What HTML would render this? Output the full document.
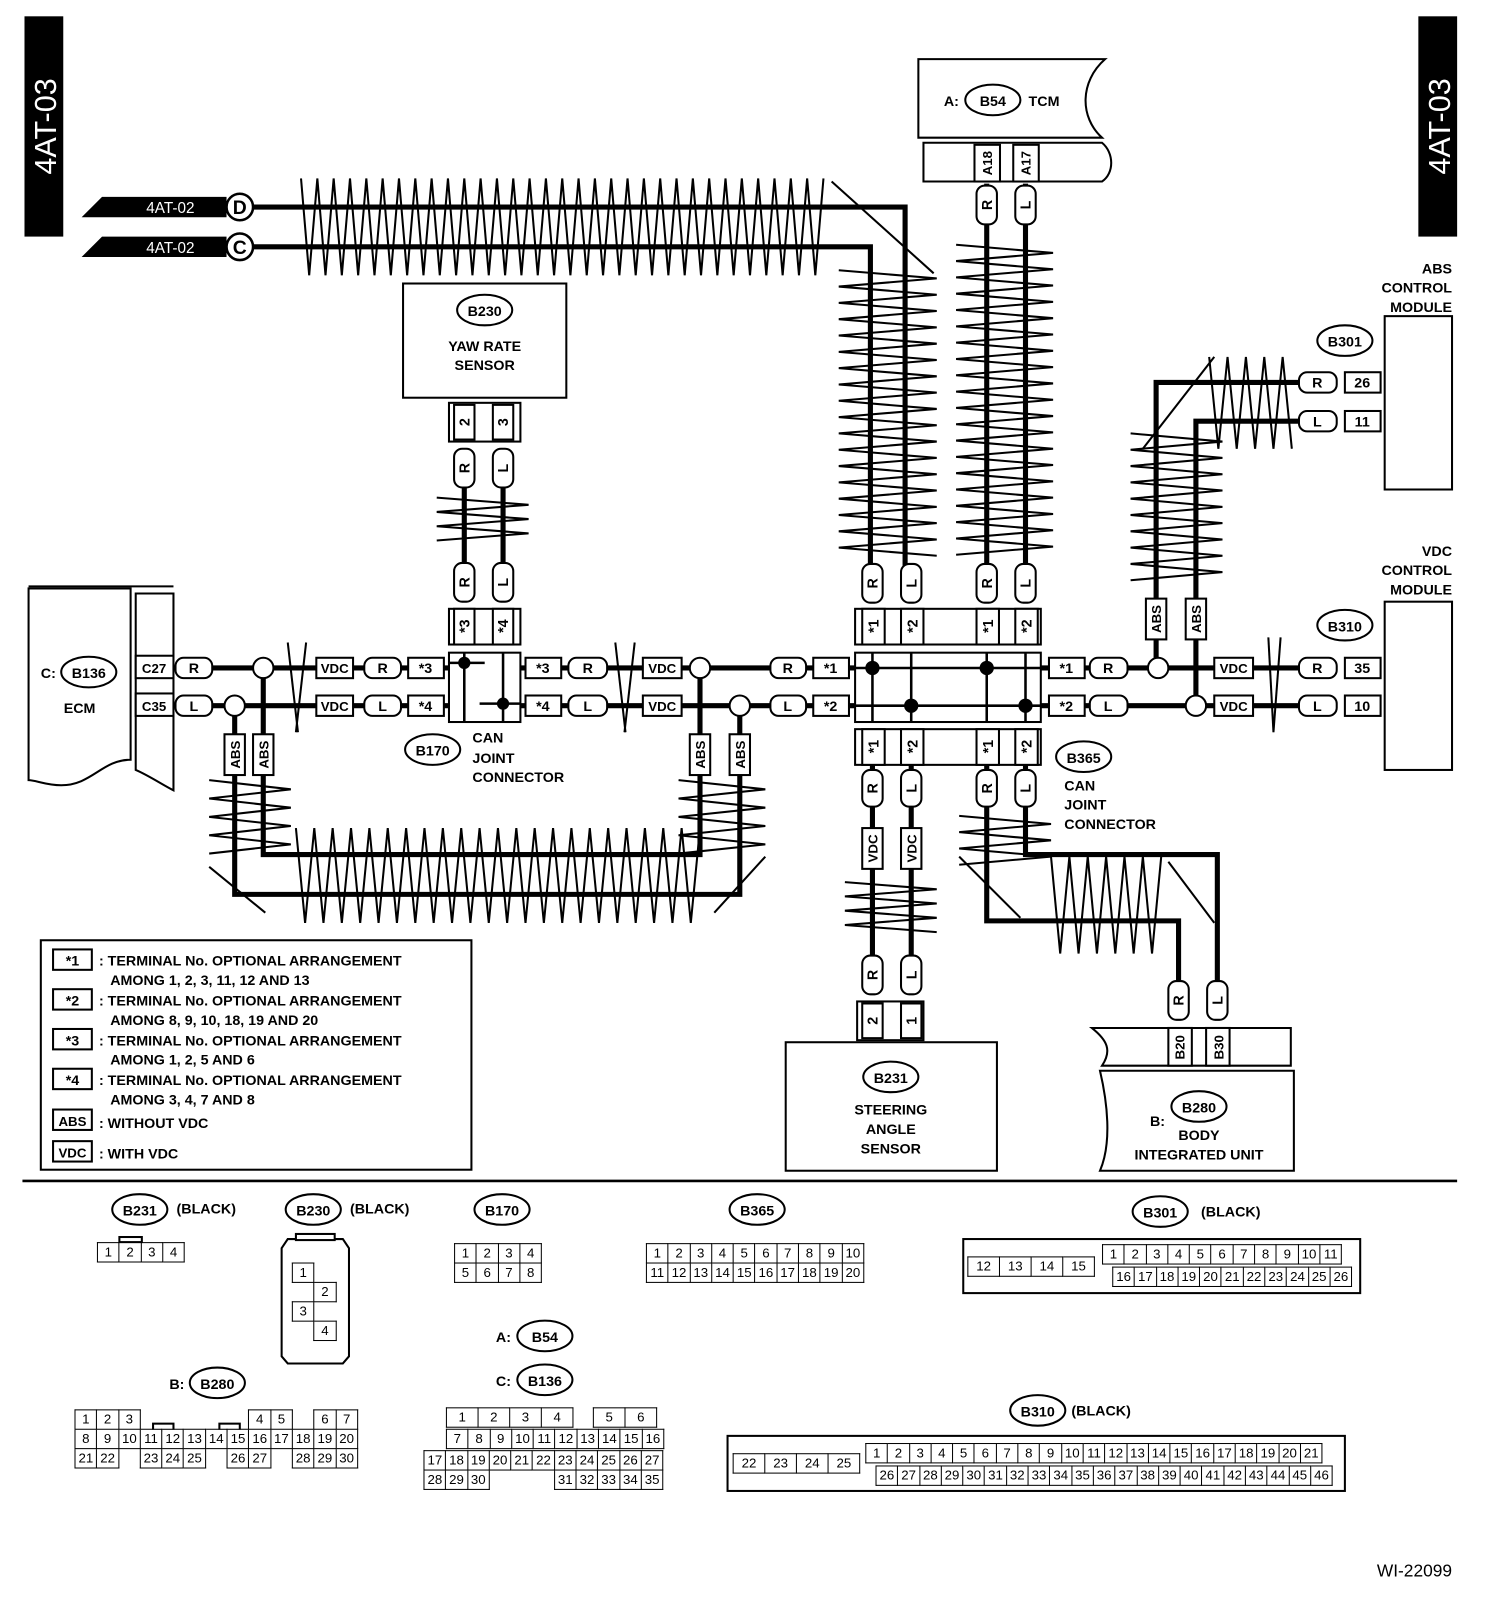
<!DOCTYPE html>
<html><head><meta charset="utf-8"><style>
html,body{margin:0;padding:0;background:#fff;width:1504px;height:1598px;overflow:hidden}
#c{position:absolute;left:0;top:0;width:1474px;height:1567px;transform-origin:0 0;transform:scale(1.0204,1.0198)}
svg{position:absolute;left:0;top:0}
svg text{font-family:"Liberation Sans",sans-serif;font-weight:bold;font-size:14px;fill:#000}
table{position:absolute;border-collapse:collapse;table-layout:fixed;font-family:"Liberation Sans",sans-serif;font-size:13px}
td{border:1.5px solid #000;text-align:center;padding:0;height:18px;width:20.3px;background:#fff;line-height:16px}
td.e{border:none;background:transparent}
</style></head><body><div id="c">
<svg width="1474" height="1567" viewBox="0 0 1474 1567" xmlns="http://www.w3.org/2000/svg">
<g id="zz" fill="none" stroke="#000" stroke-width="2"></g>
<g fill="none" stroke="#000" stroke-width="5">
<polyline points="248,203 887,203 887,555"/>
<polyline points="248,242 853,242 853,555"/>
<line x1="967" y1="180" x2="967" y2="555"/><line x1="1005" y1="180" x2="1005" y2="555"/>
<line x1="455" y1="478" x2="455" y2="552"/><line x1="493" y1="478" x2="493" y2="552"/>
<line x1="170" y1="655" x2="1273" y2="655"/><line x1="170" y1="692" x2="1273" y2="692"/>
<polyline points="258,655 258,838 686,838 686,655"/>
<polyline points="230,692 230,877 725,877 725,692"/>
<polyline points="1273,375 1133,375 1133,655"/>
<polyline points="1273,413 1172,413 1172,692"/>
<line x1="855" y1="750" x2="855" y2="937"/><line x1="893" y1="750" x2="893" y2="937"/>
<polyline points="967,750 967,903 1155,903 1155,962"/>
<polyline points="1005,750 1005,838 1193,838 1193,962"/>
</g>
<g fill="none" stroke="#000" stroke-width="2">
<line x1="815" y1="178" x2="915" y2="268"/>
<line x1="1120" y1="440" x2="1190" y2="350"/>
<line x1="940" y1="840" x2="1000" y2="900"/>
<line x1="1145" y1="845" x2="1190" y2="905"/>
<line x1="205" y1="850" x2="260" y2="895"/>
<line x1="700" y1="895" x2="750" y2="840"/>
<line x1="282" y1="630" x2="292" y2="718"/><line x1="300" y1="630" x2="290" y2="718"/>
<line x1="603" y1="630" x2="613" y2="718"/><line x1="622" y1="630" x2="612" y2="718"/>
<line x1="1243" y1="625" x2="1248" y2="718"/><line x1="1255" y1="625" x2="1248" y2="718"/>
</g>
<rect x="24" y="16" width="38" height="216" fill="#000"/>
<text transform="translate(55,124) rotate(-90)" text-anchor="middle" style="fill:#fff;font-size:30px;font-weight:normal">4AT-03</text>
<rect x="1390" y="16" width="38" height="216" fill="#000"/>
<text transform="translate(1421,124) rotate(-90)" text-anchor="middle" style="fill:#fff;font-size:30px;font-weight:normal">4AT-03</text>
<polygon points="80,213 100,193 222,193 222,213" fill="#000"/>
<text x="167" y="209" text-anchor="middle" style="fill:#fff;font-weight:normal;font-size:15px">4AT-02</text>
<polygon points="80,252 100,232 222,232 222,252" fill="#000"/>
<text x="167" y="248" text-anchor="middle" style="fill:#fff;font-weight:normal;font-size:15px">4AT-02</text>
<g fill="#fff" stroke="#000" stroke-width="2.5"><circle cx="235" cy="203" r="13"/><circle cx="235" cy="242" r="13"/></g>
<text x="235" y="210" text-anchor="middle" style="font-size:19px">D</text>
<text x="235" y="249" text-anchor="middle" style="font-size:19px">C</text>

<g fill="#fff" stroke="#000" stroke-width="2">
<path d="M900,58 H1083 C1058,80 1058,115 1080,135 H900 Z"/>
<path d="M905,140 H1080 C1092,150 1092,170 1080,178 H905 Z"/>
<rect x="955" y="142" width="25" height="36"/><rect x="993" y="142" width="25" height="36"/>
<ellipse cx="973" cy="98" rx="27" ry="15"/>
<rect x="395" y="278" width="160" height="112"/>
<ellipse cx="475" cy="304" rx="27" ry="15"/>
<rect x="440" y="395" width="70" height="38"/><rect x="445" y="397" width="20" height="34"/><rect x="483" y="397" width="20" height="34"/>
<rect x="440" y="597" width="70" height="35"/><rect x="445" y="597" width="20" height="35"/><rect x="483" y="597" width="20" height="35"/>
<rect x="440" y="640" width="70" height="68"/>
<path d="M28,577 H128 V745 C100,745 90,770 60,770 C45,770 35,765 28,765 Z"/>
<path d="M133,582 H170 V775 C160,770 145,760 133,755 Z"/>
<line x1="28" y1="575" x2="170" y2="575"/>
<rect x="133" y="643" width="37" height="22"/><rect x="133" y="680" width="37" height="22"/>
<ellipse cx="87" cy="659" rx="27" ry="15"/>
<ellipse cx="424" cy="735" rx="27" ry="15"/>
<rect x="838" y="597" width="182" height="35"/>
<rect x="838" y="640" width="182" height="68"/>
<rect x="838" y="715" width="182" height="35"/>
<rect x="845" y="597" width="22" height="35"/><rect x="883" y="597" width="22" height="35"/><rect x="957" y="597" width="22" height="35"/><rect x="995" y="597" width="22" height="35"/>
<rect x="845" y="715" width="22" height="35"/><rect x="883" y="715" width="22" height="35"/><rect x="957" y="715" width="22" height="35"/><rect x="995" y="715" width="22" height="35"/>
<ellipse cx="1062" cy="742" rx="27" ry="15"/>
<rect x="1357" y="310" width="66" height="170"/><rect x="1357" y="590" width="66" height="165"/>
<rect x="1318" y="365" width="35" height="20"/><rect x="1318" y="403" width="35" height="20"/>
<rect x="1318" y="645" width="35" height="20"/><rect x="1318" y="682" width="35" height="20"/>
<ellipse cx="1318" cy="334" rx="27" ry="15"/><ellipse cx="1318" cy="613" rx="27" ry="15"/>
<rect x="770" y="1022" width="207" height="126"/>
<rect x="840" y="982" width="65" height="38"/><rect x="845" y="984" width="20" height="34"/><rect x="883" y="984" width="20" height="34"/>
<ellipse cx="873" cy="1056" rx="27" ry="15"/>
<path d="M1070,1008 H1265 V1045 H1080 C1090,1030 1085,1020 1070,1008 Z"/>
<rect x="1145" y="1008" width="23" height="37"/><rect x="1182" y="1008" width="23" height="37"/>
<path d="M1078,1050 H1268 V1148 H1078 C1090,1120 1085,1080 1078,1050 Z"/>
<ellipse cx="1175" cy="1085" rx="27" ry="15"/>
<rect x="40" y="922" width="422" height="225"/>
<rect x="52" y="931" width="38" height="20"/><rect x="52" y="970" width="38" height="20"/><rect x="52" y="1009" width="38" height="20"/><rect x="52" y="1048" width="38" height="20"/><rect x="52" y="1088" width="38" height="20"/><rect x="52" y="1119" width="38" height="20"/>
<rect x="400" y="645" width="35" height="20"/><rect x="400" y="682" width="35" height="20"/>
<rect x="515" y="645" width="35" height="20"/><rect x="515" y="682" width="35" height="20"/>
<rect x="797" y="645" width="35" height="20"/><rect x="797" y="682" width="35" height="20"/>
<rect x="1028" y="645" width="35" height="20"/><rect x="1028" y="682" width="35" height="20"/>
<rect x="310" y="645" width="36" height="20"/><rect x="310" y="682" width="36" height="20"/>
<rect x="630" y="645" width="38" height="20"/><rect x="630" y="682" width="38" height="20"/>
<rect x="1190" y="645" width="38" height="20"/><rect x="1190" y="682" width="38" height="20"/>
<rect x="172" y="645" width="36" height="20" rx="8"/><rect x="172" y="682" width="36" height="20" rx="8"/>
<rect x="357" y="645" width="36" height="20" rx="8"/><rect x="357" y="682" width="36" height="20" rx="8"/>
<rect x="557" y="645" width="38" height="20" rx="8"/><rect x="557" y="682" width="38" height="20" rx="8"/>
<rect x="755" y="645" width="35" height="20" rx="8"/><rect x="755" y="682" width="35" height="20" rx="8"/>
<rect x="1068" y="645" width="37" height="20" rx="8"/><rect x="1068" y="682" width="37" height="20" rx="8"/>
<rect x="1273" y="645" width="37" height="20" rx="8"/><rect x="1273" y="682" width="37" height="20" rx="8"/>
<rect x="1273" y="365" width="37" height="20" rx="8"/><rect x="1273" y="403" width="37" height="20" rx="8"/>
<rect x="445" y="440" width="20" height="38" rx="8"/><rect x="483" y="440" width="20" height="38" rx="8"/>
<rect x="445" y="552" width="20" height="38" rx="8"/><rect x="483" y="552" width="20" height="38" rx="8"/>
<rect x="957" y="182" width="20" height="38" rx="8"/><rect x="995" y="182" width="20" height="38" rx="8"/>
<rect x="845" y="553" width="20" height="38" rx="8"/><rect x="883" y="553" width="20" height="38" rx="8"/><rect x="957" y="553" width="20" height="38" rx="8"/><rect x="995" y="553" width="20" height="38" rx="8"/>
<rect x="845" y="755" width="20" height="36" rx="8"/><rect x="883" y="755" width="20" height="36" rx="8"/><rect x="957" y="755" width="20" height="36" rx="8"/><rect x="995" y="755" width="20" height="36" rx="8"/>
<rect x="845" y="937" width="20" height="38" rx="8"/><rect x="883" y="937" width="20" height="38" rx="8"/>
<rect x="1145" y="962" width="20" height="38" rx="8"/><rect x="1183" y="962" width="20" height="38" rx="8"/>
<rect x="845" y="812" width="20" height="40"/><rect x="883" y="812" width="20" height="40"/>
<rect x="220" y="720" width="20" height="40"/><rect x="248" y="720" width="20" height="40"/>
<rect x="676" y="720" width="20" height="40"/><rect x="715" y="720" width="20" height="40"/>
<rect x="1123" y="587" width="20" height="40"/><rect x="1162" y="587" width="20" height="40"/>
<circle cx="258" cy="655" r="10"/><circle cx="230" cy="692" r="10"/><circle cx="686" cy="655" r="10"/><circle cx="725" cy="692" r="10"/><circle cx="1135" cy="655" r="10"/><circle cx="1172" cy="692" r="10"/>
</g>
<g stroke="#000" stroke-width="2.5">
<line x1="455" y1="640" x2="455" y2="708"/><line x1="493" y1="640" x2="493" y2="708"/>
<line x1="440" y1="650" x2="475" y2="650"/><line x1="470" y1="690" x2="510" y2="690"/>
<line x1="855" y1="640" x2="855" y2="708"/><line x1="893" y1="640" x2="893" y2="708"/><line x1="967" y1="640" x2="967" y2="708"/><line x1="1005" y1="640" x2="1005" y2="708"/>
<line x1="838" y1="655" x2="1020" y2="655"/><line x1="838" y1="692" x2="1020" y2="692"/>
</g>
<g fill="#000"><circle cx="455" cy="650" r="6"/><circle cx="493" cy="690" r="6"/><circle cx="855" cy="655" r="7"/><circle cx="893" cy="692" r="7"/><circle cx="967" cy="655" r="7"/><circle cx="1005" cy="692" r="7"/></g>
<line x1="22" y1="1158" x2="1428" y2="1158" stroke="#000" stroke-width="2.5"/>

<text x="925" y="104">A:</text><text x="973" y="104" text-anchor="middle">B54</text><text x="1008" y="104">TCM</text>
<text transform="translate(972,160) rotate(-90)" text-anchor="middle" style="font-size:13px">A18</text>
<text transform="translate(1010,160) rotate(-90)" text-anchor="middle" style="font-size:13px">A17</text>
<text transform="translate(972,201) rotate(-90)" text-anchor="middle">R</text>
<text transform="translate(1010,201) rotate(-90)" text-anchor="middle">L</text>
<text x="475" y="310" text-anchor="middle">B230</text>
<text x="475" y="344" text-anchor="middle">YAW RATE</text><text x="475" y="363" text-anchor="middle">SENSOR</text>
<text transform="translate(460,414) rotate(-90)" text-anchor="middle">2</text><text transform="translate(498,414) rotate(-90)" text-anchor="middle">3</text>
<text transform="translate(460,459) rotate(-90)" text-anchor="middle">R</text><text transform="translate(498,459) rotate(-90)" text-anchor="middle">L</text>
<text transform="translate(460,571) rotate(-90)" text-anchor="middle">R</text><text transform="translate(498,571) rotate(-90)" text-anchor="middle">L</text>
<text transform="translate(460,614) rotate(-90)" text-anchor="middle">*3</text><text transform="translate(498,614) rotate(-90)" text-anchor="middle">*4</text>
<text x="40" y="665">C:</text><text x="87" y="665" text-anchor="middle">B136</text><text x="78" y="699" text-anchor="middle">ECM</text>
<text x="151" y="660" text-anchor="middle" style="font-size:13px">C27</text><text x="151" y="697" text-anchor="middle" style="font-size:13px">C35</text>
<g text-anchor="middle">
<text x="190" y="660">R</text><text x="190" y="697">L</text>
<text x="328" y="660" style="font-size:13px">VDC</text><text x="328" y="697" style="font-size:13px">VDC</text>
<text x="375" y="660">R</text><text x="375" y="697">L</text>
<text x="417" y="660">*3</text><text x="417" y="697">*4</text>
<text x="532" y="660">*3</text><text x="532" y="697">*4</text>
<text x="576" y="660">R</text><text x="576" y="697">L</text>
<text x="649" y="660" style="font-size:13px">VDC</text><text x="649" y="697" style="font-size:13px">VDC</text>
<text x="772" y="660">R</text><text x="772" y="697">L</text>
<text x="814" y="660">*1</text><text x="814" y="697">*2</text>
<text x="1045" y="660">*1</text><text x="1045" y="697">*2</text>
<text x="1086" y="660">R</text><text x="1086" y="697">L</text>
<text x="1209" y="660" style="font-size:13px">VDC</text><text x="1209" y="697" style="font-size:13px">VDC</text>
<text x="1291" y="660">R</text><text x="1291" y="697">L</text>
<text x="1335" y="660">35</text><text x="1335" y="697">10</text>
<text x="1291" y="380">R</text><text x="1291" y="418">L</text>
<text x="1335" y="380">26</text><text x="1335" y="418">11</text>
<text x="424" y="741">B170</text>
<text x="1318" y="340">B301</text><text x="1318" y="619">B310</text>
<text x="1062" y="748">B365</text>
<text x="873" y="1062">B231</text>
<text x="1175" y="1091">B280</text>
</g>
<text x="463" y="728">CAN</text><text x="463" y="748">JOINT</text><text x="463" y="767">CONNECTOR</text>
<text x="1043" y="775">CAN</text><text x="1043" y="794">JOINT</text><text x="1043" y="813">CONNECTOR</text>
<g text-anchor="end"><text x="1423" y="268">ABS</text><text x="1423" y="287">CONTROL</text><text x="1423" y="306">MODULE</text>
<text x="1423" y="545">VDC</text><text x="1423" y="564">CONTROL</text><text x="1423" y="583">MODULE</text></g>
<g text-anchor="middle">
<text transform="translate(860,572) rotate(-90)">R</text><text transform="translate(898,572) rotate(-90)">L</text><text transform="translate(972,572) rotate(-90)">R</text><text transform="translate(1010,572) rotate(-90)">L</text>
<text transform="translate(861,614) rotate(-90)">*1</text><text transform="translate(899,614) rotate(-90)">*2</text><text transform="translate(973,614) rotate(-90)">*1</text><text transform="translate(1011,614) rotate(-90)">*2</text>
<text transform="translate(861,732) rotate(-90)">*1</text><text transform="translate(899,732) rotate(-90)">*2</text><text transform="translate(973,732) rotate(-90)">*1</text><text transform="translate(1011,732) rotate(-90)">*2</text>
<text transform="translate(860,773) rotate(-90)">R</text><text transform="translate(898,773) rotate(-90)">L</text><text transform="translate(972,773) rotate(-90)">R</text><text transform="translate(1010,773) rotate(-90)">L</text>
<text transform="translate(860,832) rotate(-90)" style="font-size:13px">VDC</text><text transform="translate(898,832) rotate(-90)" style="font-size:13px">VDC</text>
<text transform="translate(860,956) rotate(-90)">R</text><text transform="translate(898,956) rotate(-90)">L</text>
<text transform="translate(860,1001) rotate(-90)">2</text><text transform="translate(898,1001) rotate(-90)">1</text>
<text transform="translate(1160,981) rotate(-90)">R</text><text transform="translate(1198,981) rotate(-90)">L</text>
<text transform="translate(1161,1027) rotate(-90)" style="font-size:13px">B20</text><text transform="translate(1199,1027) rotate(-90)" style="font-size:13px">B30</text>
<text transform="translate(235,740) rotate(-90)" style="font-size:13px">ABS</text><text transform="translate(263,740) rotate(-90)" style="font-size:13px">ABS</text>
<text transform="translate(691,740) rotate(-90)" style="font-size:13px">ABS</text><text transform="translate(730,740) rotate(-90)" style="font-size:13px">ABS</text>
<text transform="translate(1138,607) rotate(-90)" style="font-size:13px">ABS</text><text transform="translate(1177,607) rotate(-90)" style="font-size:13px">ABS</text>
<text x="873" y="1093">STEERING</text><text x="873" y="1112">ANGLE</text><text x="873" y="1131">SENSOR</text>
<text x="1175" y="1118">BODY</text><text x="1175" y="1137">INTEGRATED UNIT</text>
<text x="71" y="947">*1</text><text x="71" y="986">*2</text><text x="71" y="1025">*3</text><text x="71" y="1064">*4</text>
<text x="71" y="1104" style="font-size:13px">ABS</text><text x="71" y="1135" style="font-size:13px">VDC</text>
</g>
<text x="1127" y="1104">B:</text>
<text x="97" y="947">: TERMINAL No. OPTIONAL ARRANGEMENT</text><text x="108" y="966">AMONG 1, 2, 3, 11, 12 AND 13</text>
<text x="97" y="986">: TERMINAL No. OPTIONAL ARRANGEMENT</text><text x="108" y="1005">AMONG 8, 9, 10, 18, 19 AND 20</text>
<text x="97" y="1025">: TERMINAL No. OPTIONAL ARRANGEMENT</text><text x="108" y="1044">AMONG 1, 2, 5 AND 6</text>
<text x="97" y="1064">: TERMINAL No. OPTIONAL ARRANGEMENT</text><text x="108" y="1083">AMONG 3, 4, 7 AND 8</text>
<text x="97" y="1106">: WITHOUT VDC</text><text x="97" y="1136">: WITH VDC</text>
<g fill="#fff" stroke="#000" stroke-width="2">
<ellipse cx="137" cy="1186" rx="27" ry="15"/><ellipse cx="307" cy="1186" rx="27" ry="15"/><ellipse cx="492" cy="1186" rx="27" ry="15"/><ellipse cx="742" cy="1186" rx="27" ry="15"/><ellipse cx="1137" cy="1188" rx="27" ry="15"/>
<ellipse cx="534" cy="1310" rx="27" ry="15"/><ellipse cx="534" cy="1353" rx="27" ry="15"/><ellipse cx="213" cy="1356" rx="27" ry="15"/><ellipse cx="1017" cy="1383" rx="27" ry="15"/>
<path d="M276,1224 L282,1215 H336 L342,1224 V1330 L336,1337 H282 L276,1330 Z"/>
<rect x="290" y="1210" width="38" height="6"/><rect x="117" y="1213" width="22" height="5"/>
<rect x="944" y="1215" width="389" height="53"/><rect x="713" y="1408" width="605" height="54"/>
<rect x="150" y="1396" width="20" height="7"/><rect x="215" y="1396" width="20" height="7"/>
</g>
<g text-anchor="middle">
<text x="137" y="1192">B231</text><text x="307" y="1192">B230</text><text x="492" y="1192">B170</text><text x="742" y="1192">B365</text><text x="1137" y="1194">B301</text>
<text x="534" y="1316">B54</text><text x="534" y="1359">B136</text><text x="213" y="1362">B280</text><text x="1017" y="1389">B310</text>
</g>
<text x="173" y="1190">(BLACK)</text><text x="343" y="1190">(BLACK)</text><text x="1177" y="1193">(BLACK)</text><text x="1050" y="1388">(BLACK)</text>
<text x="486" y="1316">A:</text><text x="486" y="1359">C:</text><text x="166" y="1362">B:</text>
<text x="1423" y="1546" text-anchor="end" style="font-size:17px;font-weight:normal">WI-22099</text>
</svg>

<table style="left:95px;top:1218px"><tr><td>1</td><td>2</td><td>3</td><td>4</td></tr></table>
<table style="left:286px;top:1238px"><tr><td>1</td><td class="e"></td></tr><tr><td class="e"></td><td>2</td></tr><tr><td>3</td><td class="e"></td></tr><tr><td class="e"></td><td>4</td></tr></table>
<table style="left:445px;top:1219px"><tr><td>1</td><td>2</td><td>3</td><td>4</td></tr><tr><td>5</td><td>6</td><td>7</td><td>8</td></tr></table>
<table style="left:633px;top:1219px"><tr><td>1</td><td>2</td><td>3</td><td>4</td><td>5</td><td>6</td><td>7</td><td>8</td><td>9</td><td>10</td></tr><tr><td>11</td><td>12</td><td>13</td><td>14</td><td>15</td><td>16</td><td>17</td><td>18</td><td>19</td><td>20</td></tr></table>
<table style="left:948px;top:1232px"><tr><td style="width:30px">12</td><td style="width:30px">13</td><td style="width:30px">14</td><td style="width:30px">15</td></tr></table>
<table style="left:1080px;top:1220px"><tr><td>1</td><td>2</td><td>3</td><td>4</td><td>5</td><td>6</td><td>7</td><td>8</td><td>9</td><td>10</td><td>11</td></tr></table>
<table style="left:1090px;top:1242px"><tr><td>16</td><td>17</td><td>18</td><td>19</td><td>20</td><td>21</td><td>22</td><td>23</td><td>24</td><td>25</td><td>26</td></tr></table>
<table style="left:73px;top:1382px"><tr><td>1</td><td>2</td><td>3</td><td class="e"></td><td class="e"></td><td class="e"></td><td class="e"></td><td class="e"></td><td>4</td><td>5</td><td class="e"></td><td>6</td><td>7</td></tr>
<tr><td>8</td><td>9</td><td>10</td><td>11</td><td>12</td><td>13</td><td>14</td><td>15</td><td>16</td><td>17</td><td>18</td><td>19</td><td>20</td></tr>
<tr><td>21</td><td>22</td><td class="e"></td><td>23</td><td>24</td><td>25</td><td class="e"></td><td>26</td><td>27</td><td class="e"></td><td>28</td><td>29</td><td>30</td></tr></table>
<table style="left:437px;top:1380px"><tr><td style="width:30px">1</td><td style="width:30px">2</td><td style="width:30px">3</td><td style="width:30px">4</td><td class="e" style="width:19px"></td><td style="width:30px">5</td><td style="width:30px">6</td></tr></table>
<table style="left:437px;top:1401px"><tr><td>7</td><td>8</td><td>9</td><td>10</td><td>11</td><td>12</td><td>13</td><td>14</td><td>15</td><td>16</td></tr></table>
<table style="left:415px;top:1422px"><tr><td>17</td><td>18</td><td>19</td><td>20</td><td>21</td><td>22</td><td>23</td><td>24</td><td>25</td><td>26</td><td>27</td></tr>
<tr><td>28</td><td>29</td><td>30</td><td class="e"></td><td class="e"></td><td class="e"></td><td>31</td><td>32</td><td>33</td><td>34</td><td>35</td></tr></table>
<table style="left:718px;top:1425px"><tr><td style="width:30px">22</td><td style="width:30px">23</td><td style="width:30px">24</td><td style="width:30px">25</td></tr></table>
<table style="left:848px;top:1415px"><tr><td>1</td><td>2</td><td>3</td><td>4</td><td>5</td><td>6</td><td>7</td><td>8</td><td>9</td><td>10</td><td>11</td><td>12</td><td>13</td><td>14</td><td>15</td><td>16</td><td>17</td><td>18</td><td>19</td><td>20</td><td>21</td></tr></table>
<table style="left:858px;top:1437px"><tr><td>26</td><td>27</td><td>28</td><td>29</td><td>30</td><td>31</td><td>32</td><td>33</td><td>34</td><td>35</td><td>36</td><td>37</td><td>38</td><td>39</td><td>40</td><td>41</td><td>42</td><td>43</td><td>44</td><td>45</td><td>46</td></tr></table>
</div>
<script>
(function(){
var g=document.getElementById('zz'),ns='http://www.w3.org/2000/svg';
function add(p){var e=document.createElementNS(ns,'polyline');e.setAttribute('points',p.join(' '));g.appendChild(e);}
function hz(x1,x2,y1,y2,st){var p=[],t=0;for(var x=x1;x<=x2;x+=st/2){p.push(x+','+(t?y2:y1));t^=1;}add(p);}
function vz(y1,y2,x1,x2,st){var p=[],t=0;for(var y=y1;y<=y2;y+=st/2){p.push((t?x2:x1)+','+y);t^=1;}add(p);}
hz(295,810,175,270,16);
vz(265,545,822,918,16);
vz(240,545,937,1032,16);
vz(488,535,428,518,14);
vz(425,570,1108,1198,16);
hz(1185,1270,350,440,18);
hz(290,690,812,905,18);
vz(765,840,205,285,18);
vz(765,840,665,750,18);
vz(865,915,828,918,14);
vz(800,850,940,1030,16);
hz(1030,1145,840,935,18);
})();
</script>
</body></html>
